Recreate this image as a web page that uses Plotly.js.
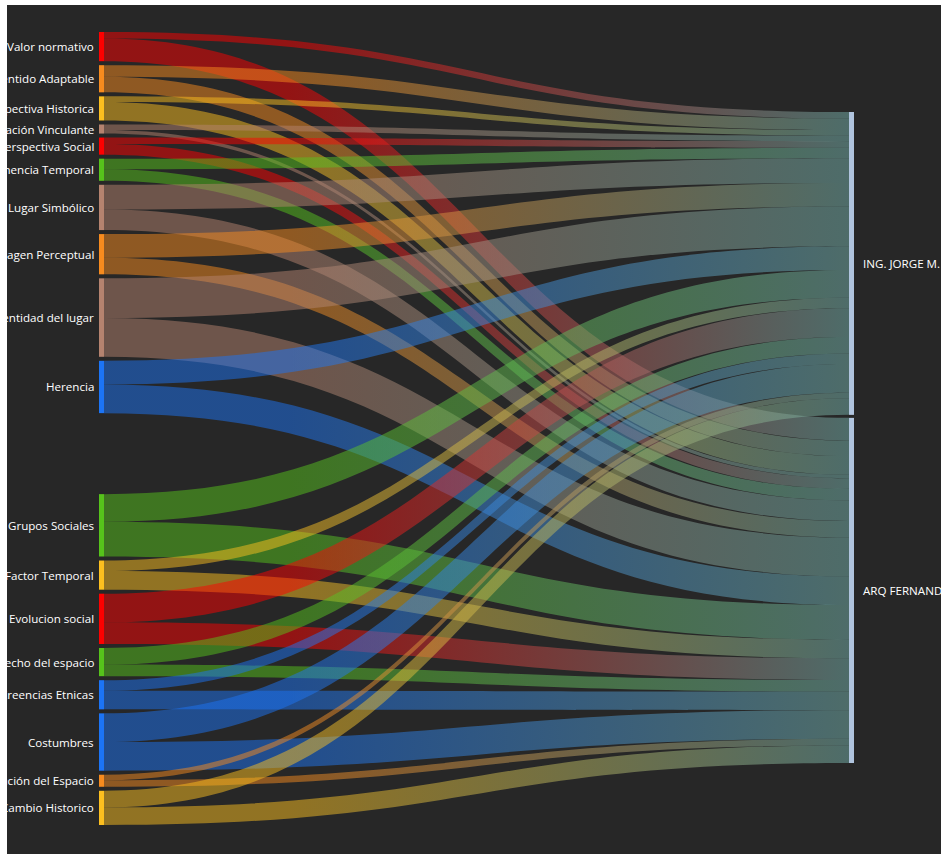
<!DOCTYPE html>
<html><head><meta charset="utf-8">
<script src="https://cdn.plot.ly/plotly-3.0.1.min.js"></script>
<style>
html,body{margin:0;padding:0;background:#ffffff;width:944px;height:854px;overflow:hidden}
#frame{position:absolute;left:7px;top:5px;width:934px;height:849px;overflow:hidden;background:#272727}
#chart{position:absolute;left:-7px;top:-5px;width:944px;height:854px}
.node-label{display:none}
</style></head><body>
<svg width="0" height="0" style="position:absolute"><defs id="grads"></defs></svg>
<div id="frame"><div id="chart"></div></div>
<script>
// ---- data ----
const sourceLabels = ["Valor normativo","Sentido Adaptable","Perspectiva Historica","Relación Vinculante","Perspectiva Social","Permanencia Temporal","Lugar Simbólico","Imagen Perceptual","Identidad del lugar","Herencia","Grupos Sociales","Factor Temporal","Evolucion social","Derecho del espacio","Creencias Etnicas","Costumbres","Apropiación del Espacio","Cambio Historico"];
const targetLabels = ["ING. JORGE M.","ARQ FERNANDO"];
const valuesToIng = [13,23,11,11,13,21,49,47,79,47,55,21,57,33,21,57,11,33];
const valuesToArq = [45,31,37,7,21,23,41,33,77,57,69,37,43,23,37,57,13,35];
const sourceColors = ["#fe0000","#f78b1e","#fcbf1f","#b5836f","#fe0000","#56c31b","#b5836f","#f78b1e","#b5836f","#1c74f5","#56c31b","#fcbf1f","#fe0000","#56c31b","#1c74f5","#1c74f5","#f78b1e","#fcbf1f"];
const targetColor = "#b0c4de";
const linkEndColor = "#6ea5a0";

// ---- layout constants (pixels) ----
const PW = 944, PH = 854;
const SK_LEFT = 99, SK_RIGHT = 854, SK_TOP = 32, SK_BOTTOM = 825;
const THICK = 5, GAP = 4, EXTRA_GAP = 77, BREAK_AFTER = 9, RIGHT_TOP = 80, RIGHT_GAP = 3;
const SKW = SK_RIGHT - SK_LEFT, SKH = SK_BOTTOM - SK_TOP;
const nL = sourceLabels.length;
const PAD = ((nL - 1) * GAP + EXTRA_GAP) / (nL - 1);

// ---- links ----
const linkSrc = [], linkTgt = [], linkVal = [], linkCol = [];
function rgba(hex, a){const n=parseInt(hex.slice(1),16);return `rgba(${n>>16},${(n>>8)&255},${n&255},${a})`;}
for (let i = 0; i < nL; i++) {
  linkSrc.push(i, i); linkTgt.push(nL, nL + 1);
  linkVal.push(valuesToIng[i], valuesToArq[i]);
  linkCol.push(rgba(sourceColors[i], 0.5), rgba(sourceColors[i], 0.5));
}

// ---- node positions derived from values ----
const leftTotals = sourceLabels.map((_, i) => valuesToIng[i] + valuesToArq[i]);
const sumAll = leftTotals.reduce((a, b) => a + b, 0);
const ky = (SKH - (nL - 1) * PAD) / sumAll;
const nodeX = [], nodeY = [];
let cur = 0;
for (let i = 0; i < nL; i++) {
  const h = leftTotals[i] * ky;
  nodeX.push((THICK / 2) / SKW);
  nodeY.push((cur + h / 2) / SKH);
  cur += h + GAP + (i === BREAK_AFTER ? EXTRA_GAP : 0);
}
const rightTotals = [valuesToIng.reduce((a,b)=>a+b,0), valuesToArq.reduce((a,b)=>a+b,0)];
cur = RIGHT_TOP;
for (let j = 0; j < 2; j++) {
  const h = rightTotals[j] * ky;
  nodeX.push((SKW - THICK / 2) / SKW);
  nodeY.push((cur + h / 2) / SKH);
  cur += h + RIGHT_GAP;
}

const domX = [SK_LEFT / PW, SK_RIGHT / PW];
const domY = [1 - SK_BOTTOM / PH, 1 - SK_TOP / PH];

const labels = sourceLabels.concat(targetLabels);
const annotations = labels.map((t, k) => {
  const left = k < nL;
  return {
    xref: 'paper', yref: 'paper', showarrow: false,
    x: left ? domX[0] : domX[1],
    xshift: left ? -3 : 7,
    xanchor: left ? 'right' : 'left',
    y: domY[1] - nodeY[k] * (domY[1] - domY[0]),
    yanchor: 'middle',
    text: t,
    font: {family: 'Open Sans, Noto Sans, sans-serif', size: 11.6, color: '#ffffff'}
  };
});

const data = [{
  type: 'sankey',
  arrangement: 'fixed',
  domain: {x: domX, y: domY},
  node: {
    label: labels,
    color: sourceColors.concat([targetColor, targetColor]),
    thickness: THICK,
    pad: PAD,
    line: {width: 0},
    x: nodeX, y: nodeY
  },
  link: {source: linkSrc, target: linkTgt, value: linkVal, color: linkCol, line: {width: 0}},
  textfont: {color: 'rgba(0,0,0,0)', size: 1}
}];

const layout = {
  width: PW, height: PH,
  margin: {l: 0, r: 0, t: 0, b: 0},
  paper_bgcolor: 'rgba(0,0,0,0)',
  plot_bgcolor: 'rgba(0,0,0,0)',
  annotations: annotations,
  showlegend: false
};

// gradients: source colour -> common end colour
const defs = document.getElementById('grads');
const NS = 'http://www.w3.org/2000/svg';
sourceColors.forEach((c, i) => {
  const g = document.createElementNS(NS, 'linearGradient');
  g.setAttribute('id', 'g' + i);
  g.setAttribute('x1', '0'); g.setAttribute('x2', '1');
  g.setAttribute('y1', '0'); g.setAttribute('y2', '0');
  [[0, c, 0.5], [0.25, c, 0.5], [1, linkEndColor, 0.55]].forEach(s => {
    const st = document.createElementNS(NS, 'stop');
    st.setAttribute('offset', s[0]);
    st.setAttribute('stop-color', s[1]);
    st.setAttribute('stop-opacity', s[2]);
    g.appendChild(st);
  });
  defs.appendChild(g);
});

function applyGradients(gd) {
  gd.querySelectorAll('.sankey-link').forEach((p, i) => {
    const d = p.__data__;
    let s = (d && d.link && d.link.source && d.link.source.pointNumber != null) ? d.link.source.pointNumber : linkSrc[i];
    if (s == null || s >= nL) s = linkSrc[i];
    p.style.fill = 'url(#g' + s + ')';
    p.style.fillOpacity = 1;
  });
}

Plotly.newPlot('chart', data, layout, {displayModeBar: false}).then(gd => {
  applyGradients(gd);
  setTimeout(() => applyGradients(gd), 300);
  setTimeout(() => applyGradients(gd), 900);
});
</script>
</body></html>
